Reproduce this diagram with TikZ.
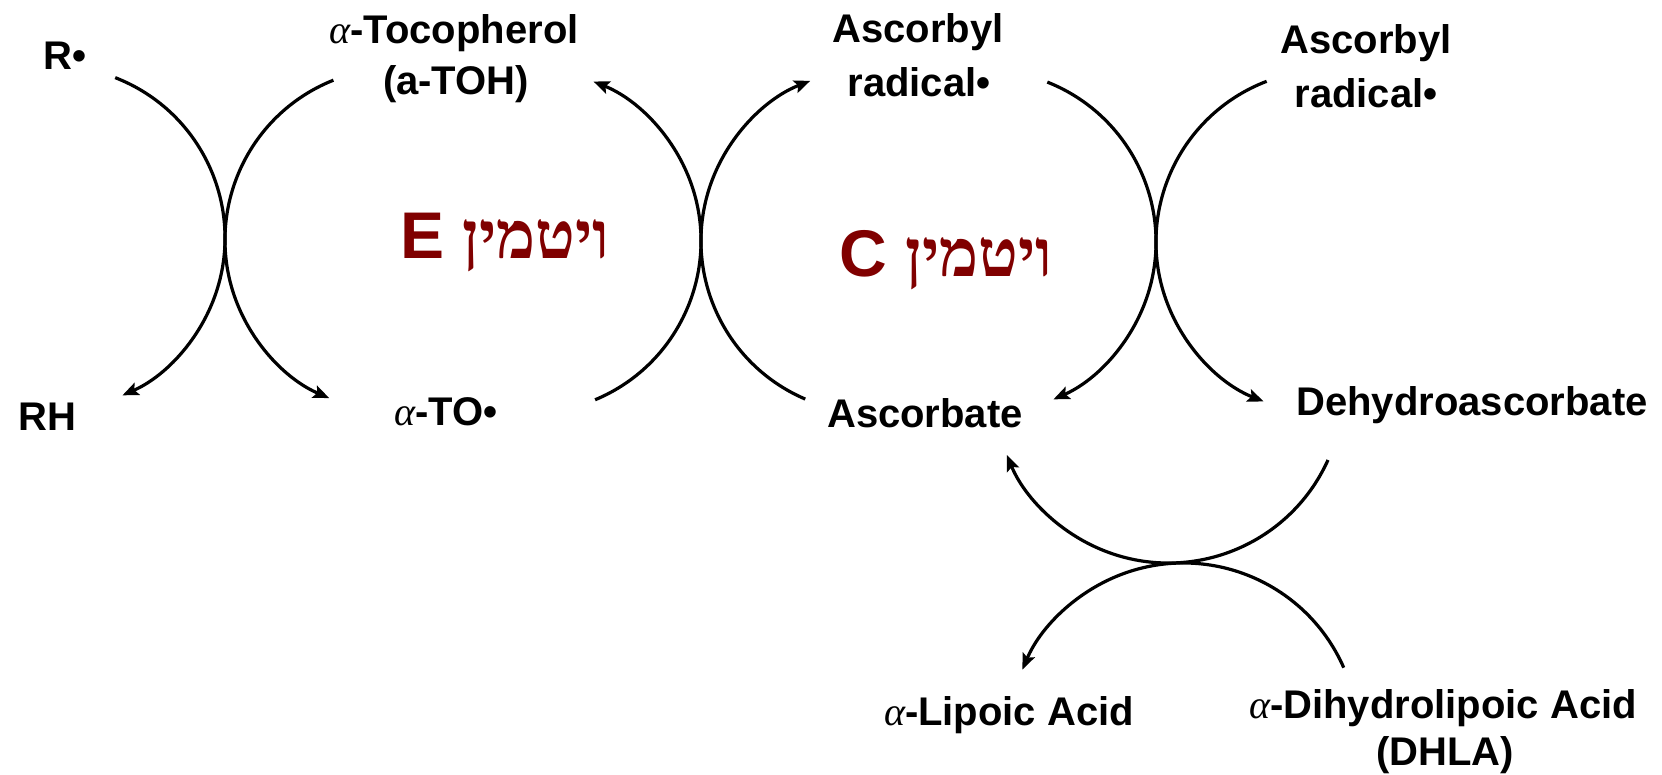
\documentclass[tikz,border=0pt]{standalone}
\usepackage{fontspec}
\setmainfont{Liberation Sans}
\newfontfamily\hebserif[Script=Hebrew]{Liberation Serif}
\newfontfamily\grkfont{Liberation Serif}
\TeXXeTstate=1
\usetikzlibrary{arrows.meta,calc}
\definecolor{vitred}{RGB}{128,0,0}
\newcommand{\alp}{{\grkfont\mdseries\itshape α}}

\begin{document}
\begin{tikzpicture}[x=1pt,y=-1pt,
  lbl/.style={font=\bfseries\fontsize{40}{50}\selectfont, inner sep=0pt, anchor=base},
  vit/.style={font=\bfseries\fontsize{66}{70}\selectfont, text=vitred, inner sep=0pt, anchor=base},
  rx/.style={line width=3.2pt, -{Stealth[length=16pt,width=13pt,inset=3pt]}}]
\useasboundingbox (0,0) rectangle (1662,775);

% species
\node[lbl] (R)     at (65,70)    {R•};
\node[lbl] (toc)   at (454,44)   {\alp-Tocopherol};
\node[lbl] (toh)   at (456,95)   {(a-TOH)};
\node[lbl] (ascA1) at (918,43)   {Ascorbyl};
\node[lbl] (ascA2) at (919,97)   {radical•};
\node[lbl] (ascB1) at (1366,54)  {Ascorbyl};
\node[lbl] (ascB2) at (1366,108) {radical•};
\node[lbl] (RH)    at (47.5,430) {RH};
\node[lbl] (TO)    at (446,425)  {\alp-TO•};
\node[lbl] (asc)   at (925,427)  {Ascorbate};
\node[lbl] (dha)   at (1472,415) {Dehydroascorbate};
\node[lbl] (lip)   at (1009,725) {\alp-Lipoic Acid};
\node[lbl] (dhla1) at (1443,718) {\alp-Dihydrolipoic Acid};
\node[lbl] (dhla2) at (1445,765) {(DHLA)};

% cycle titles
\node[vit] (vitE) at (505,259) {E\ {\hebserif\beginR ויטמין\endR}};
\node[vit] (vitC) at (946,277) {C\ {\hebserif\beginR ויטמין\endR}};

% arc centres
\coordinate (cA) at (53,238);
\coordinate (cB) at (397,240);
\coordinate (cC) at (529,241);
\coordinate (cD) at (873,241);
\coordinate (cE) at (984,242);
\coordinate (cF) at (1328,242);
\coordinate (cG) at (1168.5,388);
\coordinate (cH) at (1183.5,738);

% arc start points
\coordinate (sA) at ($(cA)+(-68.8:172)$);
\coordinate (sB) at ($(cB)+(248.3:172)$);
\coordinate (sC) at ($(cC)+(67.4:172)$);
\coordinate (sD) at ($(cD)+(113.2:172)$);
\coordinate (sE) at ($(cE)+(-68.4:172)$);
\coordinate (sF) at ($(cF)+(249.1:172)$);
\coordinate (sG) at ($(cG)+(24.3:175)$);
\coordinate (sH) at ($(cH)+(-23.7:175)$);

% reactions
\draw[rx] (sA) arc[start angle=-68.8, end angle=66.2,  radius=172];
\draw[rx] (sB) arc[start angle=248.3, end angle=113.2, radius=172];
\draw[rx] (sC) arc[start angle=67.4,  end angle=-68,   radius=172];
\draw[rx] (sD) arc[start angle=113.2, end angle=248.6, radius=172];
\draw[rx] (sE) arc[start angle=-68.4, end angle=66.2,  radius=172];
\draw[rx] (sF) arc[start angle=249.1, end angle=112,   radius=172];
\draw[rx] (sG) arc[start angle=24.3,  end angle=157.5, radius=175];
\draw[rx] (sH) arc[start angle=-23.7, end angle=-157,  radius=175];
\end{tikzpicture}
\end{document}
